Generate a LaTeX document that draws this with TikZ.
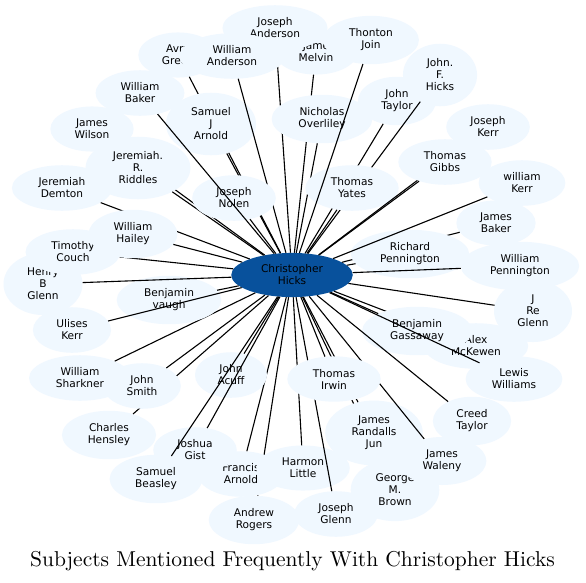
\documentclass[tikz,border=0pt]{standalone}
\usepackage{fontspec}
\newfontfamily\labelfont{DejaVu Sans}
\newfontfamily\titlefont{lmroman10-regular.otf}
\usetikzlibrary{shapes.geometric}
\definecolor{subjblue}{RGB}{240,248,255}
\definecolor{hickblue}{RGB}{8,81,156}

\begin{document}
\begin{tikzpicture}[x=1pt, y=-1pt,
		% Node styles
		subject/.style={ellipse, fill=subjblue, inner xsep=12pt, inner ysep=6pt,
				font=\labelfont\fontsize{10.6}{12}\selectfont, align=center},
		focus/.style={subject, fill=hickblue, inner ysep=5.5pt},
		connector/.style={draw=black, line width=1.1pt},
		title/.style={font=\titlefont\fontsize{21.5}{25}\selectfont, anchor=base},
	]

	\fill[white] (0,0) rectangle (586,582);
	\useasboundingbox (0,0) rectangle (586,582);

	% Central subject
	\node[focus] (hicks) at (292,275) {Christopher\\Hicks};

	% Subjects, each followed by its link to the centre
	\node[subject] (jame_melvin) at (316,52) {Jame\\Melvin};
	\draw[connector] (hicks) -- (jame_melvin);
	\node[subject] (joseph_anderson) at (275,28) {Joseph\\Anderson};
	\draw[connector] (hicks) -- (joseph_anderson);
	\node[subject] (avry_green) at (178,55) {Avry\\Green};
	\draw[connector] (hicks) -- (avry_green);
	\node[subject] (samuel_j_arnold) at (211,124) {Samuel\\J\\Arnold};
	\draw[connector] (hicks) -- (samuel_j_arnold);
	\node[subject] (william_anderson) at (232,56) {William\\Anderson};
	\draw[connector] (hicks) -- (william_anderson);
	\node[subject] (nicholas_overliley) at (322,119) {Nicholas\\Overliley};
	\draw[connector] (hicks) -- (nicholas_overliley);
	\node[subject] (john_taylor) at (397,101) {John\\Taylor};
	\draw[connector] (hicks) -- (john_taylor);
	\node[subject] (john_f_hicks) at (440,75) {John.\\F.\\Hicks};
	\draw[connector] (hicks) -- (john_f_hicks);
	\node[subject] (thomas_yates) at (352,188) {Thomas\\Yates};
	\draw[connector] (hicks) -- (thomas_yates);
	\node[subject] (thonton_join) at (371,40) {Thonton\\Join};
	\draw[connector] (hicks) -- (thonton_join);
	\node[subject] (joseph_kerr) at (488,127) {Joseph\\Kerr};
	\draw[connector] (hicks) -- (joseph_kerr);
	\node[subject] (thomas_gibbs) at (445,162) {Thomas\\Gibbs};
	\draw[connector] (hicks) -- (thomas_gibbs);
	\node[subject] (james_baker) at (496,223) {James\\Baker};
	\draw[connector] (hicks) -- (james_baker);
	\node[subject] (richard_pennington) at (410,254) {Richard\\Pennington};
	\draw[connector] (hicks) -- (richard_pennington);
	\node[subject] (william_kerr) at (522,183) {william\\Kerr};
	\draw[connector] (hicks) -- (william_kerr);
	\node[subject] (william_pennington) at (520,266) {William\\Pennington};
	\draw[connector] (hicks) -- (william_pennington);
	\node[subject] (j_re_glenn) at (533,311) {J\\Re\\Glenn};
	\draw[connector] (hicks) -- (j_re_glenn);
	\node[subject] (alex_mckewen) at (476,346) {Alex\\McKewen};
	\draw[connector] (hicks) -- (alex_mckewen);
	\node[subject] (benjamin_gassaway) at (417,331) {Benjamin\\Gassaway};
	\draw[connector] (hicks) -- (benjamin_gassaway);
	\node[subject] (lewis_williams) at (514,379) {Lewis\\Williams};
	\draw[connector] (hicks) -- (lewis_williams);
	\node[subject] (creed_taylor) at (472,421) {Creed\\Taylor};
	\draw[connector] (hicks) -- (creed_taylor);
	\node[subject] (george_m_brown) at (395,490) {George\\M.\\Brown};
	\draw[connector] (hicks) -- (george_m_brown);
	\node[subject] (james_randalls_jun) at (374,433) {James\\Randalls\\Jun};
	\draw[connector] (hicks) -- (james_randalls_jun);
	\node[subject] (james_waleny) at (442,461) {James\\Waleny};
	\draw[connector] (hicks) -- (james_waleny);
	\node[subject] (andrew_rogers) at (254,520) {Andrew\\Rogers};
	\draw[connector] (hicks) -- (andrew_rogers);
	\node[subject] (francis_arnold) at (241,474) {Francis\\Arnold};
	\draw[connector] (hicks) -- (francis_arnold);
	\node[subject] (harmon_little) at (303,468) {Harmon\\Little};
	\draw[connector] (hicks) -- (harmon_little);
	\node[subject] (joseph_glenn) at (336,514) {Joseph\\Glenn};
	\draw[connector] (hicks) -- (joseph_glenn);
	\node[subject] (thomas_irwin) at (334,379) {Thomas\\Irwin};
	\draw[connector] (hicks) -- (thomas_irwin);
	\node[subject] (john_acuff) at (231,375) {John\\Acuff};
	\draw[connector] (hicks) -- (john_acuff);
	\node[subject] (joshua_gist) at (195,450) {Joshua\\Gist};
	\draw[connector] (hicks) -- (joshua_gist);
	\node[subject] (samuel_beasley) at (156,479) {Samuel\\Beasley};
	\draw[connector] (hicks) -- (samuel_beasley);
	\node[subject] (charles_hensley) at (109,435) {Charles\\Hensley};
	\draw[connector] (hicks) -- (charles_hensley);
	\node[subject] (william_sharkner) at (80,378) {William\\Sharkner};
	\draw[connector] (hicks) -- (william_sharkner);
	\node[subject] (john_smith) at (142,386) {John\\Smith};
	\draw[connector] (hicks) -- (john_smith);
	\node[subject] (benjamin_vaugh) at (169,300) {Benjamin\\vaugh};
	\draw[connector] (hicks) -- (benjamin_vaugh);
	\node[subject] (ulises_kerr) at (72,330) {Ulises\\Kerr};
	\draw[connector] (hicks) -- (ulises_kerr);
	\node[subject] (henry_b_glenn) at (43,284) {Henry\\B\\Glenn};
	\draw[connector] (hicks) -- (henry_b_glenn);
	\node[subject] (timothy_couch) at (73,252) {Timothy\\Couch};
	\draw[connector] (hicks) -- (timothy_couch);
	\node[subject] (jeremiah_demton) at (62,188) {Jeremiah\\Demton};
	\draw[connector] (hicks) -- (jeremiah_demton);
	\node[subject] (william_hailey) at (133,234) {William\\Hailey};
	\draw[connector] (hicks) -- (william_hailey);
	\node[subject] (james_wilson) at (92,129) {James\\Wilson};
	\draw[connector] (hicks) -- (james_wilson);
	\node[subject] (jeremiah_r_riddles) at (138,168) {Jeremiah.\\R.\\Riddles};
	\draw[connector] (hicks) -- (jeremiah_r_riddles);
	\node[subject] (joseph_nolen) at (234,198) {Joseph\\Nolen};
	\draw[connector] (hicks) -- (joseph_nolen);
	\node[subject] (william_baker) at (140,93) {William\\Baker};
	\draw[connector] (hicks) -- (william_baker);

	% Title
	\node[title] (title) at (292.5,566) {Subjects Mentioned Frequently With Christopher Hicks};

\end{tikzpicture}
\end{document}
